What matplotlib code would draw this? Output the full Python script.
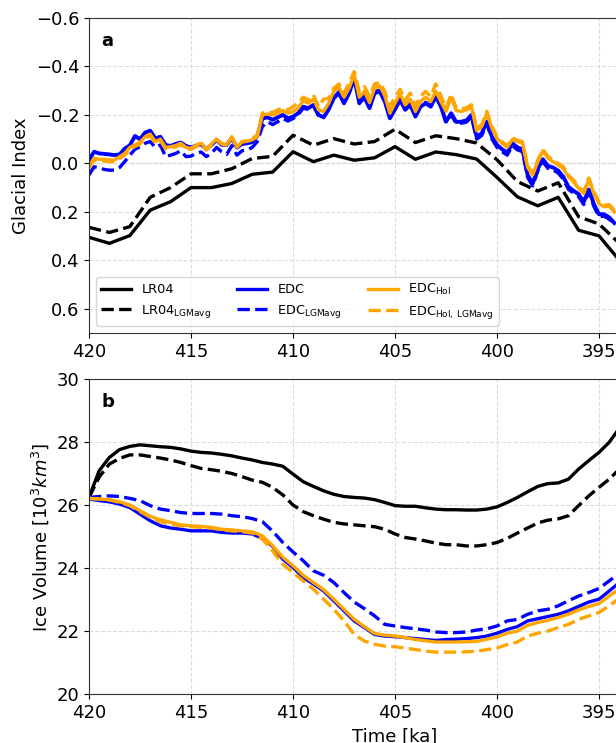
import numpy as np
import matplotlib
matplotlib.use("Agg")
import matplotlib.pyplot as plt

# ---------------- data ----------------
# LR04 glacial index (1 ka resolution)
t_lr = [420, 419, 418, 417, 416, 415, 414, 413, 412, 411, 410, 409, 408, 407,
        406, 405, 404, 403, 402, 401, 400, 399, 398, 397, 396, 395, 394]
gi_lr04 = [0.305, 0.330, 0.298, 0.193, 0.158, 0.100, 0.100, 0.083, 0.045, 0.036,
           -0.048, -0.007, -0.034, -0.013, -0.023, -0.069, -0.017, -0.047, -0.036,
           -0.018, 0.058, 0.138, 0.175, 0.140, 0.276, 0.299, 0.400]
gi_lr04_lgm = [0.264, 0.285, 0.261, 0.140, 0.100, 0.043, 0.043, 0.022, -0.020, -0.029,
               -0.116, -0.075, -0.102, -0.080, -0.090, -0.141, -0.086, -0.114, -0.102,
               -0.084, -0.015, 0.075, 0.114, 0.080, 0.220, 0.250, 0.330]

# EDC glacial index (0.25 ka resolution, 420 -> 394.25 ka)
t_edc = np.arange(420.0, 394.0, -0.25)
gi_edc = [-0.014, -0.048, -0.041, -0.039, -0.037, -0.034, -0.037, -0.061, -0.074, -0.113,
          -0.100, -0.127, -0.135, -0.103, -0.110, -0.076, -0.072, -0.080, -0.086, -0.072,
          -0.066, -0.073, -0.079, -0.058, -0.076, -0.097, -0.077, -0.076, -0.105, -0.065,
          -0.080, -0.083, -0.088, -0.113, -0.185, -0.190,
          -0.180, -0.190, -0.200, -0.186, -0.193, -0.207, -0.234, -0.228, -0.241, -0.200,
          -0.190, -0.223, -0.269, -0.290, -0.248, -0.290, -0.352, -0.248, -0.273, -0.228,
          -0.290, -0.297, -0.255, -0.186, -0.223, -0.262, -0.221, -0.241, -0.193, -0.234,
          -0.248, -0.234, -0.276, -0.234, -0.172,
          -0.207, -0.171, -0.172, -0.177, -0.200, -0.110, -0.124, -0.172, -0.110, -0.076,
          -0.058, -0.044, -0.083, -0.066, -0.058, 0.048, 0.083, 0.021, -0.017, 0.011,
          0.017, 0.030, 0.055, 0.097, 0.113, 0.127, 0.159, 0.108, 0.168, 0.210,
          0.210, 0.223, 0.246]
gi_edc_lgm = [0.048, 0.014, 0.019, 0.025, 0.028, 0.028, 0.017, -0.007, -0.034, -0.058,
              -0.069, -0.083, -0.090, -0.066, -0.076, -0.028, -0.034, -0.041, -0.052, -0.028,
              -0.030, -0.041, -0.047, -0.028, -0.041, -0.066, -0.048, -0.037, -0.073, -0.034,
              -0.052, -0.055, -0.066, -0.090, -0.152, -0.172,
              -0.160, -0.172, -0.185, -0.175, -0.185, -0.200, -0.228, -0.222, -0.238, -0.198,
              -0.190, -0.225, -0.272, -0.295, -0.255, -0.298, -0.355, -0.255, -0.280, -0.235,
              -0.296, -0.302, -0.262, -0.192, -0.228, -0.268, -0.226, -0.246, -0.198, -0.238,
              -0.252, -0.238, -0.280, -0.238, -0.168,
              -0.200, -0.165, -0.166, -0.170, -0.192, -0.100, -0.115, -0.163, -0.100, -0.066,
              -0.048, -0.034, -0.073, -0.056, -0.048, 0.058, 0.093, 0.031, -0.007, 0.021,
              0.027, 0.040, 0.065, 0.107, 0.123, 0.137, 0.170, 0.118, 0.178, 0.220,
              0.218, 0.230, 0.252]
gi_hol = [0.014, -0.021, -0.017, -0.017, -0.014, -0.014, -0.028, -0.041, -0.066, -0.076,
          -0.087, -0.110, -0.121, -0.090, -0.100, -0.066, -0.069, -0.074, -0.083, -0.066,
          -0.062, -0.076, -0.083, -0.058, -0.080, -0.100, -0.083, -0.076, -0.110, -0.066,
          -0.088, -0.091, -0.097, -0.110, -0.200, -0.204,
          -0.200, -0.207, -0.218, -0.207, -0.214, -0.228, -0.259, -0.248, -0.265, -0.221,
          -0.214, -0.248, -0.297, -0.314, -0.273, -0.310, -0.366, -0.273, -0.297, -0.251,
          -0.310, -0.320, -0.279, -0.207, -0.248, -0.287, -0.241, -0.265, -0.214, -0.255,
          -0.273, -0.255, -0.297, -0.255, -0.215,
          -0.273, -0.218, -0.214, -0.221, -0.232, -0.135, -0.152, -0.207, -0.145, -0.103,
          -0.083, -0.066, -0.099, -0.090, -0.083, 0.017, 0.048, -0.007, -0.052, -0.021,
          -0.007, 0.007, 0.021, 0.055, 0.076, 0.103, 0.124, 0.066, 0.124, 0.166,
          0.179, 0.177, 0.200]
gi_hol_lgm = [0.020, -0.014, -0.010, -0.010, -0.007, -0.007, -0.020, -0.034, -0.058, -0.070,
              -0.080, -0.104, -0.114, -0.083, -0.093, -0.060, -0.062, -0.068, -0.077, -0.060,
              -0.058, -0.070, -0.078, -0.055, -0.076, -0.097, -0.080, -0.074, -0.108, -0.066,
              -0.090, -0.094, -0.102, -0.118, -0.208, -0.212,
              -0.210, -0.221, -0.228, -0.221, -0.234, -0.248, -0.273, -0.262, -0.283, -0.234,
              -0.265, -0.269, -0.310, -0.328, -0.290, -0.331, -0.379, -0.297, -0.317, -0.276,
              -0.328, -0.334, -0.297, -0.234, -0.273, -0.306, -0.262, -0.290, -0.237, -0.276,
              -0.297, -0.276, -0.328, -0.279, -0.228,
              -0.285, -0.228, -0.224, -0.230, -0.242, -0.145, -0.160, -0.215, -0.152, -0.110,
              -0.090, -0.072, -0.105, -0.096, -0.089, 0.010, 0.040, -0.014, -0.058, -0.028,
              -0.014, 0.000, 0.014, 0.048, 0.069, 0.096, 0.117, 0.060, 0.117, 0.159,
              0.172, 0.170, 0.193]

# Ice volume (0.5 ka resolution, 420 -> 394 ka)
t_iv = np.arange(420.0, 393.9, -0.5)
iv_lr04 = [26.25, 27.10, 27.52, 27.77, 27.87, 27.92, 27.89, 27.86, 27.84, 27.79,
           27.72, 27.68, 27.66, 27.62, 27.57, 27.50, 27.44, 27.36, 27.31,
           27.24, 26.99, 26.75, 26.60, 26.46, 26.35, 26.28, 26.25, 26.23, 26.18,
           26.09, 25.99, 25.97, 25.97, 25.92, 25.88, 25.86,
           25.86, 25.85, 25.85, 25.88, 25.95, 26.09, 26.25, 26.43, 26.60, 26.69,
           26.71, 26.83, 27.15, 27.42, 27.68, 28.00, 28.45]
iv_lr04_lgm = [26.25, 26.90, 27.31, 27.49, 27.60, 27.60, 27.55, 27.50, 27.44, 27.36,
               27.26, 27.17, 27.13, 27.08, 27.01, 26.91, 26.80, 26.73, 26.57,
               26.33, 26.01, 25.80, 25.67, 25.56, 25.46, 25.41, 25.38, 25.35, 25.32,
               25.24, 25.09, 24.98, 24.93, 24.87, 24.80, 24.75,
               24.75, 24.71, 24.71, 24.75, 24.82, 24.95, 25.12, 25.28, 25.44, 25.53,
               25.57, 25.67, 25.99, 26.30, 26.57, 26.83, 27.15]
iv_edc = [26.20, 26.15, 26.11, 26.04, 25.93, 25.72, 25.51, 25.35, 25.28, 25.24,
          25.19, 25.19, 25.19, 25.14, 25.12, 25.12, 25.09, 24.95, 24.70,
          24.29, 24.03, 23.71, 23.50, 23.28, 22.97, 22.65, 22.33, 22.12, 21.90,
          21.85, 21.83, 21.80, 21.77, 21.74, 21.71, 21.74,
          21.75, 21.77, 21.80, 21.85, 21.94, 22.06, 22.15, 22.33, 22.40, 22.47,
          22.54, 22.65, 22.79, 22.93, 23.02, 23.28, 23.55]
iv_edc_lgm = [26.25, 26.28, 26.30, 26.28, 26.22, 26.15, 25.99, 25.88, 25.83, 25.77,
              25.74, 25.74, 25.74, 25.72, 25.67, 25.64, 25.58, 25.48, 25.18,
              24.82, 24.52, 24.24, 23.92, 23.78, 23.55, 23.23, 22.93, 22.72, 22.49,
              22.22, 22.17, 22.12, 22.08, 22.04, 21.98, 21.96,
              21.96, 21.98, 22.04, 22.08, 22.17, 22.33, 22.38, 22.54, 22.65, 22.70,
              22.81, 22.97, 23.12, 23.23, 23.36, 23.60, 23.85]
iv_hol = [26.22, 26.20, 26.18, 26.11, 26.01, 25.83, 25.65, 25.54, 25.46, 25.38,
          25.35, 25.33, 25.30, 25.24, 25.22, 25.19, 25.16, 25.03, 24.72,
          24.35, 24.08, 23.78, 23.55, 23.32, 23.02, 22.70, 22.38, 22.15, 21.93,
          21.88, 21.85, 21.80, 21.74, 21.70, 21.66, 21.66,
          21.66, 21.67, 21.68, 21.75, 21.82, 21.94, 22.01, 22.19, 22.28, 22.35,
          22.44, 22.54, 22.68, 22.79, 22.88, 23.12, 23.35]
iv_hol_lgm = [26.22, 26.20, 26.17, 26.09, 25.99, 25.80, 25.62, 25.48, 25.40, 25.35,
              25.32, 25.30, 25.28, 25.22, 25.19, 25.16, 25.12, 24.93, 24.55,
              24.13, 23.87, 23.60, 23.34, 23.02, 22.70, 22.33, 21.90, 21.69, 21.59,
              21.53, 21.51, 21.47, 21.42, 21.37, 21.34, 21.34,
              21.34, 21.35, 21.37, 21.42, 21.47, 21.58, 21.66, 21.85, 21.94, 22.01,
              22.12, 22.22, 22.38, 22.49, 22.60, 22.81, 23.05]

labels = ["LR04", r"LR04$_{\mathrm{LGMavg}}$", "EDC", r"EDC$_{\mathrm{LGMavg}}$",
          r"EDC$_{\mathrm{Hol}}$", r"EDC$_{\mathrm{Hol,\,LGMavg}}$"]
xticks = [420, 415, 410, 405, 400, 395]

# ---------------- figure ----------------
plt.rcParams['font.family'] = ['DejaVu Sans']
fig = plt.figure(figsize=(6.16, 7.43), dpi=100)
W = 0.9935
ax1 = fig.add_axes([0.1445, 0.5518, W, 0.424])
ax2 = fig.add_axes([0.1445, 0.0655, W, 0.424])

lw = 2.4
BL, OR = '#0000FF', '#FFA500'

ax1.axhline(0, color='gray', ls='--', lw=0.8, zorder=1)
ax1.plot(t_lr, gi_lr04, color='k', lw=lw, label=labels[0])
ax1.plot(t_lr, gi_lr04_lgm, color='k', lw=lw, ls='--', label=labels[1])
ax1.plot(t_edc, gi_edc, color=BL, lw=lw + 0.4, label=labels[2])
ax1.plot(t_edc, gi_edc_lgm, color=BL, lw=lw, ls='--', label=labels[3])
ax1.plot(t_edc, gi_hol, color=OR, lw=lw, label=labels[4])
ax1.plot(t_edc, gi_hol_lgm, color=OR, lw=lw, ls='--', label=labels[5])

ax2.plot(t_iv, iv_lr04, color='k', lw=lw)
ax2.plot(t_iv, iv_lr04_lgm, color='k', lw=lw, ls='--')
ax2.plot(t_iv, iv_edc, color=BL, lw=lw)
ax2.plot(t_iv, iv_edc_lgm, color=BL, lw=lw, ls='--')
ax2.plot(t_iv, iv_hol, color=OR, lw=lw)
ax2.plot(t_iv, iv_hol_lgm, color=OR, lw=lw, ls='--')

for ax in (ax1, ax2):
    ax.set_xlim(420, 390)
    ax.set_xticks(xticks)
    ax.grid(True, ls='--', color='#dddddd', lw=0.8)
    ax.tick_params(labelsize=13)
    for s in ax.spines.values():
        s.set_color('#333333')

ax1.set_ylim(0.7, -0.6)
ax1.set_yticks([-0.6, -0.4, -0.2, 0.0, 0.2, 0.4, 0.6])
ax1.set_ylabel("Glacial Index", fontsize=13)
ax1.text(0.02, 0.955, "a", transform=ax1.transAxes, fontsize=13,
         fontweight='bold', va='top')
leg = ax1.legend(loc='lower left', ncol=3, fontsize=9.3, handlelength=2.3,
                 handletextpad=0.8, columnspacing=2.0, borderaxespad=0.55,
                 labelspacing=0.5)
for h in leg.get_lines():
    h.set_linewidth(2.4)

ax2.set_ylim(20, 30)
ax2.set_yticks([20, 22, 24, 26, 28, 30])
ax2.set_ylabel(r"Ice Volume [$10^3 km^3$]", fontsize=13)
ax2.set_xlabel("Time [ka]", fontsize=13)
ax2.text(0.02, 0.955, "b", transform=ax2.transAxes, fontsize=13,
         fontweight='bold', va='top')

fig.savefig("out.png", dpi=100)
